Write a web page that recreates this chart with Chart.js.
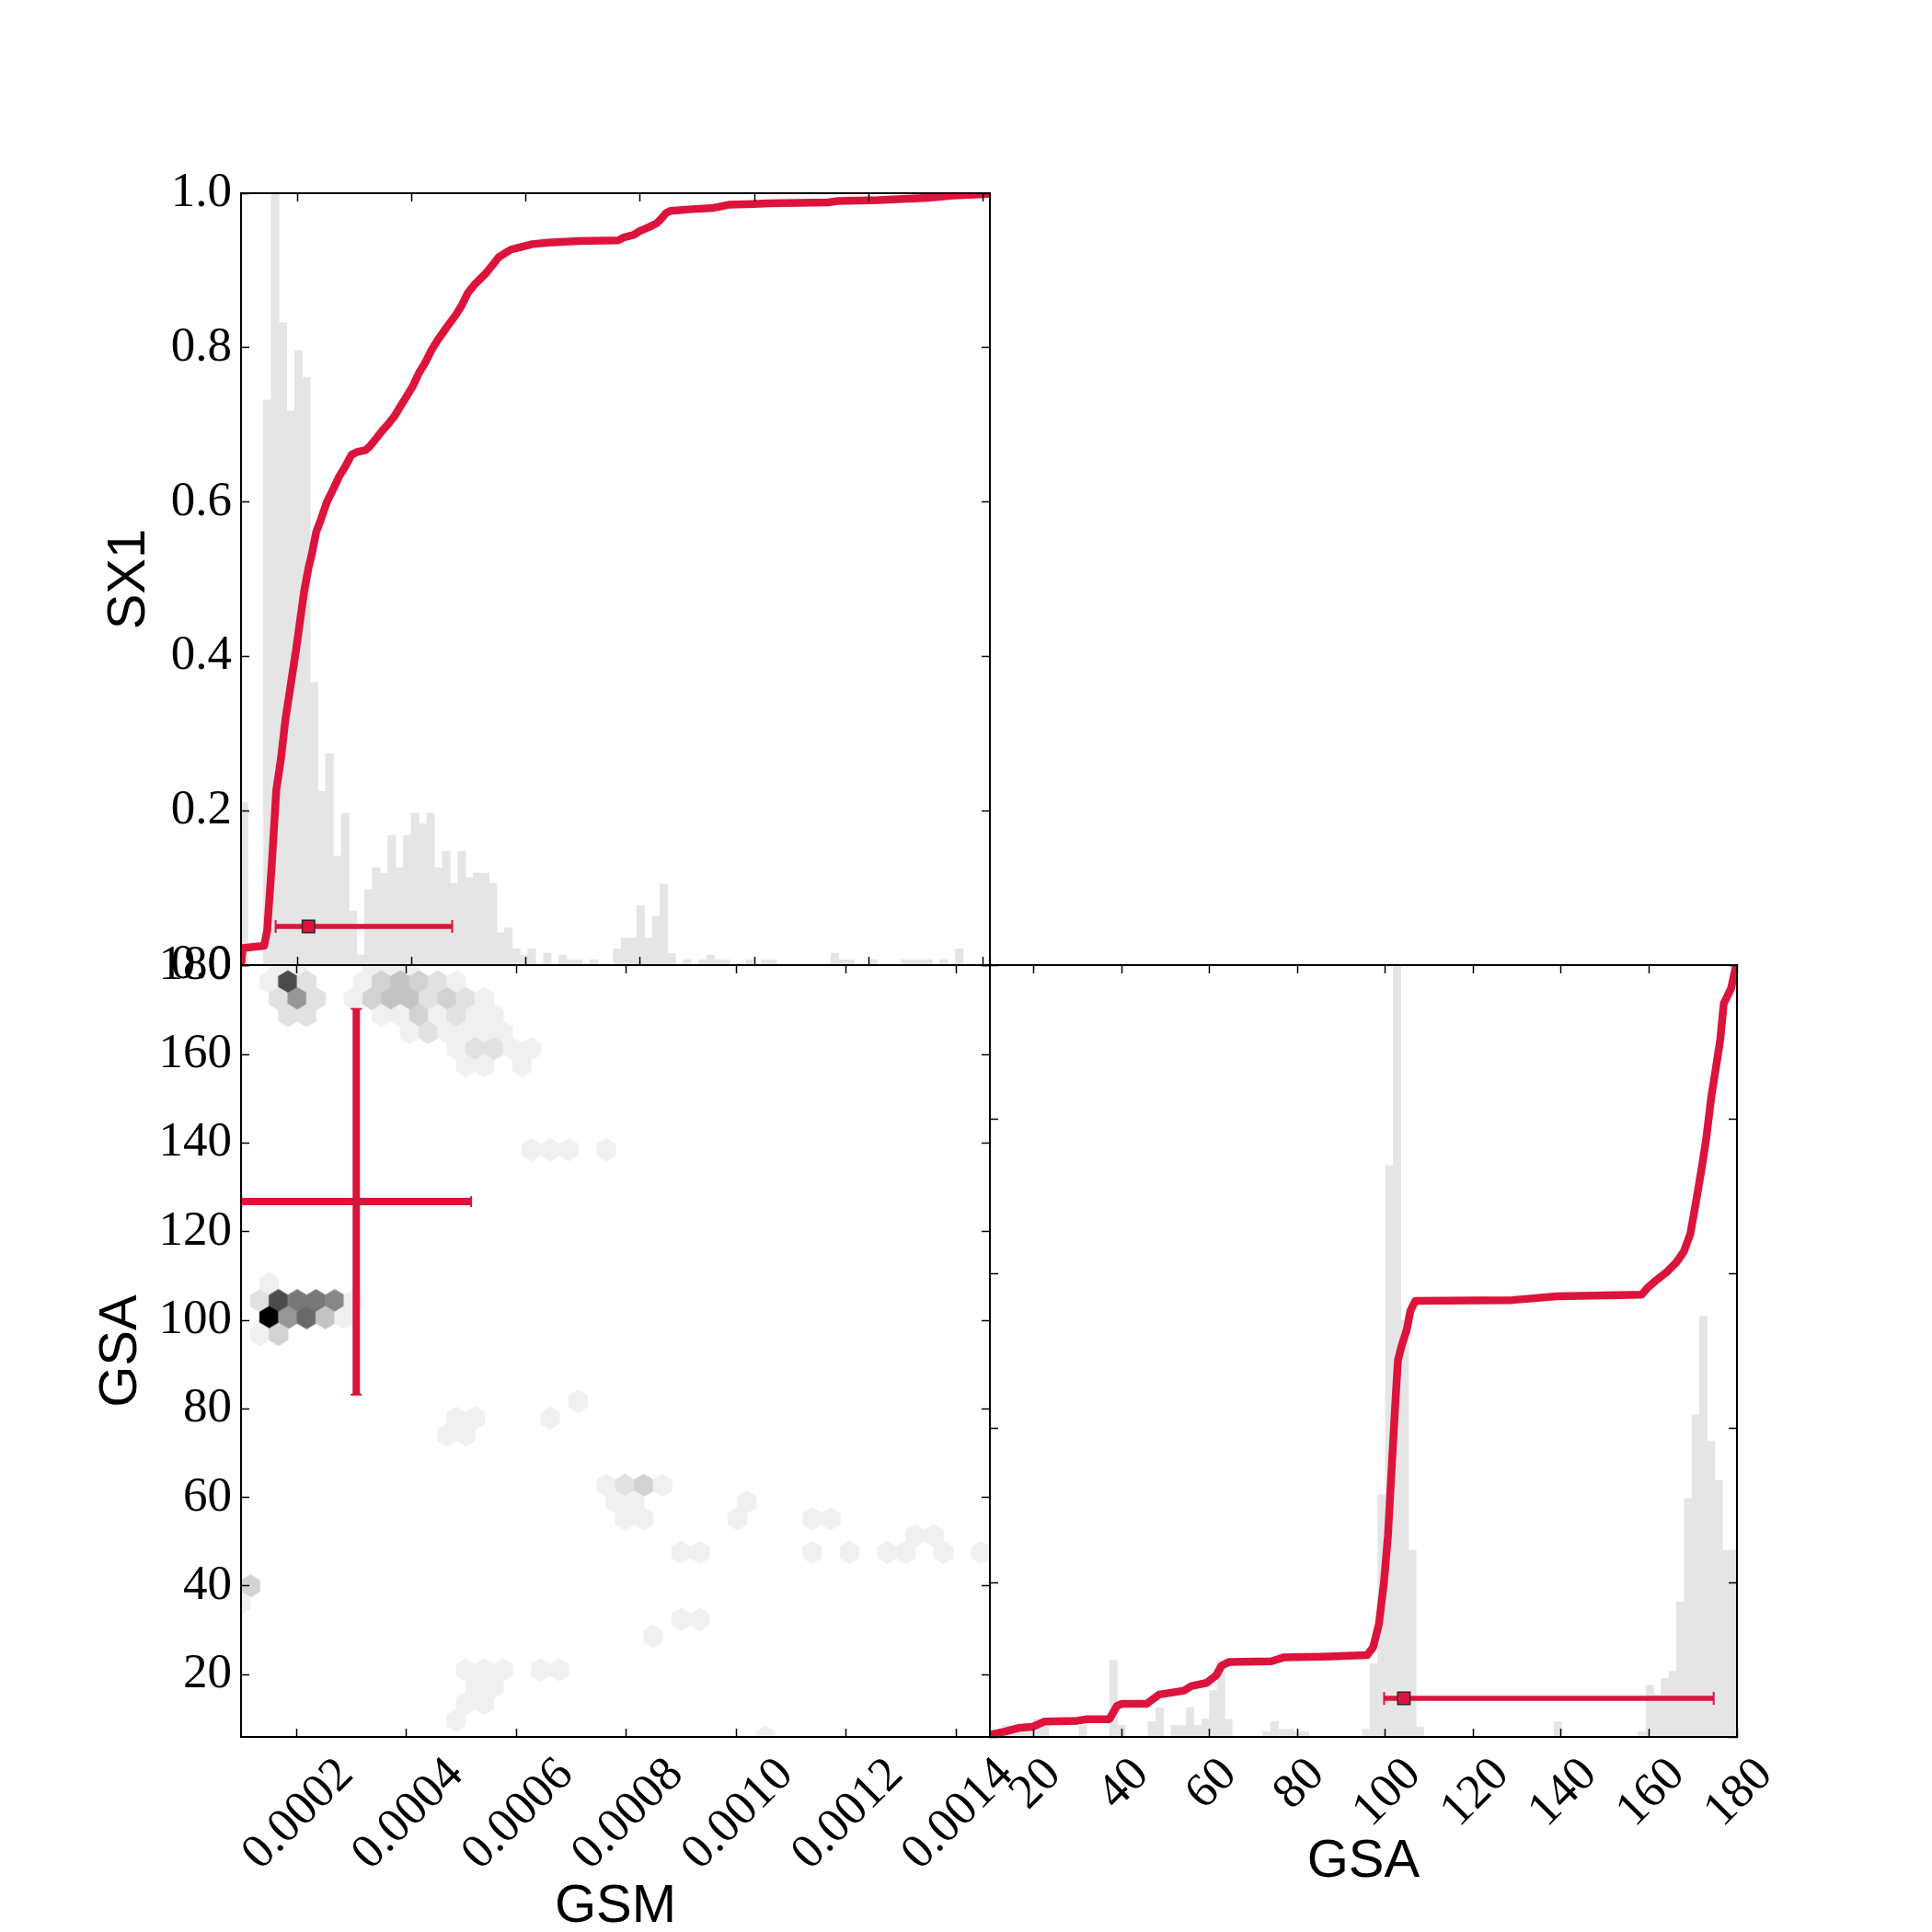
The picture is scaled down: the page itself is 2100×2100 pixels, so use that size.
<!DOCTYPE html>
<html>
<head>
<meta charset="utf-8">
<script src="https://cdn.jsdelivr.net/npm/chart.js@4.4.1/dist/chart.umd.min.js"></script>
<style>
  html, body { margin: 0; padding: 0; background: #fff; }
  #wrap { position: relative; width: 2100px; height: 2100px; overflow: hidden; }
  #wrap canvas { position: absolute; left: 0; top: 0; }
</style>
</head>
<body>
<div id="wrap">
  <canvas id="cdfGsm" width="2100" height="2100"></canvas>
  <canvas id="hexPanel" width="2100" height="2100"></canvas>
  <canvas id="cdfGsa" width="2100" height="2100"></canvas>
</div>
<script>
const RED = '#dc143c';
const HIST = '#e5e5e5';

// tick values / labels
const gsmTickValues = [0.0002, 0.0004, 0.0006, 0.0008, 0.0010, 0.0012, 0.0014];
const gsmTickLabels = ['0.0002', '0.0004', '0.0006', '0.0008', '0.0010', '0.0012', '0.0014'];
const gsaTickValues = [20, 40, 60, 80, 100, 120, 140, 160, 180];
const gsaTickLabels = ['20', '40', '60', '80', '100', '120', '140', '160', '180'];
const fracTickValues = [0, 0.2, 0.4, 0.6, 0.8, 1.0];
const fracTickLabels = ['0.0', '0.2', '0.4', '0.6', '0.8', '1.0'];

// axis ranges
const gsmRangeDiag = [0.0001015, 0.0014122];
const gsmRange = [0.0000994, 0.0014616];
const gsaRange = [5.9, 180.2];
const gsaRangeDiag = [10, 180];

// GSM histogram (normalised to tallest bin)
const gsmBinStart = 0.0001;
const gsmBinWidth = 1.3607e-5;
const gsmHist = [
  0.211, 0, 0, 0.732, 1.0, 0.832, 0.718, 0.796, 0.761, 0.366,
  0.225, 0.274, 0.141, 0.197, 0.070, 0.013, 0.098, 0.126, 0.119, 0.168,
  0.126, 0.168, 0.197, 0.183, 0.197, 0.126, 0.147, 0.106, 0.147, 0.113,
  0.119, 0.119, 0.106, 0.042, 0.048, 0.021, 0.013, 0.021, 0, 0.015,
  0, 0.013, 0.007, 0.007, 0, 0.007, 0, 0, 0.021, 0.035,
  0.035, 0.077, 0.035, 0.063, 0.105, 0.015, 0, 0.007, 0, 0.007,
  0.013, 0.007, 0.007, 0, 0, 0.007, 0, 0.007, 0.007, 0,
  0, 0, 0, 0, 0, 0, 0.015, 0.007, 0.007, 0,
  0, 0.007, 0, 0, 0, 0.007, 0.007, 0.007, 0.007, 0,
  0.007, 0, 0.021, 0, 0, 0, 0, 0, 0, 0
];

// GSA histogram
const gsaBinStart = 5.9;
const gsaBinWidth = 1.743;
const gsaHist = [
  0, 0, 0, 0.007, 0.015, 0.015, 0.015, 0.015, 0.023, 0.023,
  0, 0, 0, 0, 0.015, 0, 0, 0, 0.099, 0.015,
  0, 0, 0, 0.020, 0.038, 0, 0.015, 0.015, 0.038, 0.015,
  0.023, 0.060, 0.099, 0.023, 0, 0, 0, 0, 0.007, 0.020,
  0.010, 0.010, 0.007, 0.007, 0, 0, 0, 0, 0, 0,
  0, 0.010, 0.095, 0.314, 0.740, 1.0, 0.540, 0.242, 0.013, 0,
  0, 0, 0, 0, 0, 0, 0, 0, 0, 0,
  0, 0, 0, 0, 0, 0, 0.020, 0, 0, 0,
  0, 0, 0, 0, 0, 0, 0, 0.007, 0.067, 0.055,
  0.076, 0.085, 0.175, 0.309, 0.417, 0.545, 0.383, 0.332, 0.242, 0.242
];

// cumulative curves
const cdfGsmX = [0.0001015, 0.0001045, 0.0001418, 0.0001471, 0.0001552, 0.0001632, 0.0001713, 0.0001793,
  0.0001874, 0.0001981, 0.0002115, 0.0002196, 0.0002250, 0.0002330, 0.0002411, 0.0002518, 0.0002625,
  0.0002733, 0.0002840, 0.0002947, 0.0003055, 0.0003189, 0.0003269, 0.0003377, 0.0003484, 0.0003592,
  0.0003699, 0.0003806, 0.0003914, 0.0004021, 0.0004128, 0.0004236, 0.0004343, 0.0004450, 0.0004611,
  0.0004772, 0.0004880, 0.0004987, 0.0005094, 0.0005202, 0.0005309, 0.0005416, 0.0005524, 0.0005631,
  0.0005739, 0.0005846, 0.0006114, 0.0006383, 0.0006919, 0.0007617, 0.0007725, 0.0007886, 0.0007993,
  0.0008154, 0.0008288, 0.0008369, 0.0008449, 0.0008530, 0.0008851, 0.0009287, 0.000955, 0.0009986,
  0.001025, 0.001129, 0.001147, 0.001217, 0.001304, 0.001348, 0.001412];
const cdfGsmY = [0.0, 0.022, 0.025, 0.044, 0.129, 0.227, 0.267, 0.319, 0.358, 0.410, 0.482, 0.515, 0.531,
  0.561, 0.577, 0.600, 0.616, 0.633, 0.646, 0.661, 0.665, 0.667, 0.672, 0.682, 0.692, 0.701, 0.711, 0.724,
  0.737, 0.750, 0.767, 0.780, 0.796, 0.809, 0.826, 0.842, 0.855, 0.871, 0.881, 0.889, 0.897, 0.907, 0.917,
  0.922, 0.927, 0.929, 0.934, 0.936, 0.938, 0.939, 0.943, 0.946, 0.951, 0.956, 0.961, 0.967, 0.974, 0.977,
  0.979, 0.981, 0.985, 0.986, 0.987, 0.988, 0.990, 0.991, 0.994, 0.997, 0.999];

const cdfGsaX = [10.03, 13.42, 16.82, 19.65, 22.48, 29.84, 32.10, 37.20, 38.89, 40.03, 45.69, 48.51, 51.91,
  54.17, 55.87, 59.27, 61.53, 62.66, 64.36, 74.03, 76.81, 85.87, 95.83, 97.19, 98.54, 99.68, 100.58, 101.49,
  102.28, 102.85, 103.75, 104.88, 105.68, 106.81, 128.88, 139.07, 158.31, 159.67, 161.70, 163.97, 166.23,
  167.93, 169.40, 170.76, 172.12, 173.02, 174.15, 175.29, 176.19, 176.99, 178.68, 179.81];
const cdfGsaY = [0.003, 0.007, 0.012, 0.013, 0.020, 0.021, 0.023, 0.023, 0.040, 0.043, 0.043, 0.055, 0.058,
  0.060, 0.066, 0.070, 0.080, 0.092, 0.097, 0.098, 0.103, 0.104, 0.106, 0.116, 0.147, 0.201, 0.261, 0.355,
  0.435, 0.488, 0.508, 0.528, 0.552, 0.565, 0.566, 0.571, 0.573, 0.582, 0.592, 0.602, 0.615, 0.629, 0.652,
  0.696, 0.742, 0.776, 0.829, 0.870, 0.903, 0.950, 0.970, 1.0];

// summary markers: [low, centre, high]
const barLevel = 0.05;
const gsmSummary = [0.000162, 0.0002195, 0.000471];
const gsaSummary = [99.7, 104.2, 174.7];
const crossGsm = [0.0001, 0.000309, 0.000518];
const crossGsa = [83.2, 126.8, 170.3];

// hexbin cells (centre GSM, centre GSA, count)
const hexCellW = 3.4065e-5;
const hexCellH = 7.578;
const hexMax = 17;
const hexGsm = [
  0.0001675, 0.0002016, 0.0003379, 0.0003719, 0.0004060,
  0.0001505, 0.0001846, 0.0002186, 0.0003208, 0.0003549, 0.0003890, 0.0004230, 0.0004571, 0.0004911,
  0.0001675, 0.0002016, 0.0002357, 0.0003038, 0.0003379, 0.0003719, 0.0004060, 0.0004401, 0.0004741, 0.0005082, 0.0005422,
  0.0001846, 0.0002186, 0.0003549, 0.0003890, 0.0004230, 0.0004571, 0.0004911, 0.0005252, 0.0005593,
  0.0004060, 0.0004401, 0.0004741, 0.0005082, 0.0005422, 0.0005763,
  0.0004911, 0.0005252, 0.0005593, 0.0005933, 0.0006274,
  0.0005082, 0.0005422, 0.0006104,
  0.0006274, 0.0006615, 0.0006955, 0.0007637,
  0.0001505,
  0.0001335, 0.0001675, 0.0002016, 0.0002357, 0.0002697, 0.0003038,
  0.0001505, 0.0001846, 0.0002186, 0.0002527, 0.0002868,
  0.0001335, 0.0001675,
  0.0007126,
  0.0004911, 0.0005252, 0.0006615,
  0.0004741, 0.0005082,
  0.0007637, 0.0007977, 0.0008318, 0.0008659,
  0.0007807, 0.0008148, 0.0010192,
  0.0007977, 0.0008318, 0.0010021, 0.0011384, 0.0011725,
  0.0013257, 0.0013598,
  0.0008999, 0.0009340, 0.0011384, 0.0012065, 0.0012747, 0.0013087, 0.0013768, 0.0014450,
  0.0001164,
  0.0000994,
  0.0008999, 0.0009340,
  0.0008488,
  0.0005082, 0.0005422, 0.0005763, 0.0006444, 0.0006785,
  0.0005252, 0.0005593,
  0.0005082, 0.0005422,
  0.0004911,
  0.0010532
];
const hexGsa = [
  180.2, 180.2, 180.2, 180.2, 180.2,
  176.4, 176.4, 176.4, 176.4, 176.4, 176.4, 176.4, 176.4, 176.4,
  172.6, 172.6, 172.6, 172.6, 172.6, 172.6, 172.6, 172.6, 172.6, 172.6, 172.6,
  168.8, 168.8, 168.8, 168.8, 168.8, 168.8, 168.8, 168.8, 168.8,
  165.0, 165.0, 165.0, 165.0, 165.0, 165.0,
  161.3, 161.3, 161.3, 161.3, 161.3,
  157.5, 157.5, 157.5,
  138.5, 138.5, 138.5, 138.5,
  108.2,
  104.4, 104.4, 104.4, 104.4, 104.4, 104.4,
  100.6, 100.6, 100.6, 100.6, 100.6,
  96.84, 96.84,
  81.68,
  77.89, 77.89, 77.89,
  74.10, 74.10,
  62.74, 62.74, 62.74, 62.74,
  58.95, 58.95, 58.95,
  55.16, 55.16, 55.16, 55.16, 55.16,
  51.37, 51.37,
  47.58, 47.58, 47.58, 47.58, 47.58, 47.58, 47.58, 47.58,
  40.0,
  36.21,
  32.42, 32.42,
  28.63,
  21.06, 21.06, 21.06, 21.06, 21.06,
  17.27, 17.27,
  13.48, 13.48,
  9.69,
  5.9
];
const hexCount = [
  1, 1, 1, 1, 1,
  1, 12, 2, 1, 3, 4, 3, 2, 1,
  2, 7, 2, 1, 3, 4, 4, 2, 3, 2, 1,
  2, 2, 1, 1, 3, 1, 2, 1, 1,
  1, 2, 1, 1, 1, 1,
  1, 2, 2, 1, 1,
  1, 1, 1,
  1, 1, 1, 1,
  1,
  2, 12, 9, 9, 8, 1,
  17, 7, 10, 4, 1,
  1, 3,
  1,
  1, 1, 1,
  1, 1,
  1, 2, 3, 1,
  1, 1, 1,
  1, 1, 1, 1, 1,
  1, 1,
  1, 1, 1, 1, 1, 1, 1, 1,
  3,
  1,
  1, 1,
  1,
  1, 1, 1, 1, 1,
  1, 1,
  1, 1,
  1,
  1
];

// ---- helpers ----
const tickFont = { family: 'Liberation Serif', size: 53 };
const titleFont = { family: 'Liberation Sans', size: 58, lineHeight: 1 };

function frameAxis(position, range, tickValues, size, ticks, title) {
  const horizontal = position === 'top' || position === 'bottom';
  return {
    type: 'linear',
    axis: horizontal ? 'x' : 'y',
    position: position,
    min: range[0],
    max: range[1],
    offset: false,
    beginAtZero: false,
    afterBuildTicks: scale => { scale.ticks = tickValues.map(v => ({ value: v })); },
    afterFit: scale => { if (horizontal) scale.height = size; else scale.width = size; },
    border: { display: true, color: '#000', width: 2, z: 1 },
    grid: { display: true, offset: false, drawOnChartArea: false, drawTicks: true, tickLength: -9,
            tickWidth: 1.5, tickColor: '#000', color: '#000', z: 1 },
    ticks: ticks || { display: false },
    title: title || { display: false }
  };
}

function yLabels(labels) {
  return { display: true, autoSkip: false, padding: 19, color: '#000', font: tickFont,
           callback: (v, i) => labels[i] };
}

function axisTitle(text, padding) {
  return { display: true, text: text, color: '#000', font: titleFont, padding: padding };
}

function histData(start, width, heights) {
  return heights.map((h, k) => ({ x: start + (k + 0.5) * width, y: h }));
}

function pairs(xs, ys) {
  return xs.map((x, i) => ({ x: x, y: ys[i] }));
}

// x tick labels rotated 45 deg and centred on the tick (matplotlib style)
const rotatedTickLabels = {
  id: 'rotatedTickLabels',
  afterDraw(chart, args, opts) {
    if (!opts.labels) return;
    const scale = chart.scales.x;
    const ctx = chart.ctx;
    ctx.save();
    ctx.font = tickFont.size + 'px "' + tickFont.family + '"';
    ctx.fillStyle = '#000';
    ctx.textAlign = 'center';
    ctx.textBaseline = 'alphabetic';
    scale.ticks.forEach((t, i) => {
      const text = opts.labels[i];
      const w = ctx.measureText(text).width;
      const h = tickFont.size * 0.66;
      const half = (w + h) * Math.SQRT1_2 / 2;
      const px = scale.getPixelForValue(t.value);
      const py = scale.top + opts.pad + half;
      ctx.save();
      ctx.translate(px, py);
      ctx.rotate(-Math.PI / 4);
      ctx.fillText(text, 0, h / 2);
      ctx.restore();
    });
    ctx.restore();
  }
};

const hexCache = {};
function hexImage(c) {
  if (!c.raw) return 'circle';
  const xs = c.chart.scales.x, ys = c.chart.scales.y;
  const hw = Math.abs(xs.getPixelForValue(xs.min + hexCellW / 2) - xs.getPixelForValue(xs.min));
  const hh = Math.abs(ys.getPixelForValue(ys.min + hexCellH / 3) - ys.getPixelForValue(ys.min));
  const key = c.raw.c + ':' + hw.toFixed(2) + ':' + hh.toFixed(2);
  if (hexCache[key]) return hexCache[key];
  const g = Math.round(255 * (1 - c.raw.c / hexMax));
  const cv = document.createElement('canvas');
  cv.width = Math.ceil(hw * 2) + 4;
  cv.height = Math.ceil(hh * 2) + 4;
  const x = cv.getContext('2d');
  const cx = cv.width / 2, cy = cv.height / 2;
  x.beginPath();
  x.moveTo(cx + hw, cy - hh / 2);
  x.lineTo(cx + hw, cy + hh / 2);
  x.lineTo(cx, cy + hh);
  x.lineTo(cx - hw, cy + hh / 2);
  x.lineTo(cx - hw, cy - hh / 2);
  x.lineTo(cx, cy - hh);
  x.closePath();
  x.fillStyle = x.strokeStyle = 'rgb(' + g + ',' + g + ',' + g + ')';
  x.fill();
  x.lineWidth = 1;
  x.stroke();
  hexCache[key] = cv;
  return cv;
}

function baseOptions(scales, extraPlugins) {
  return {
    responsive: false,
    animation: false,
    devicePixelRatio: 1,
    events: [],
    layout: { padding: 0, autoPadding: false },
    plugins: Object.assign({ legend: { display: false }, tooltip: { enabled: false } }, extraPlugins || {}),
    scales: scales
  };
}

function summaryDatasets(summary) {
  return [
    { label: 'centre', data: [{ x: summary[1], y: barLevel }], showLine: false,
      pointStyle: 'rect', pointRadius: 9.5, pointBackgroundColor: RED,
      pointBorderColor: '#2b2b2b', pointBorderWidth: 1.5, order: 0, clip: 0 },
    { label: 'interval', data: [{ x: summary[0], y: barLevel }, { x: summary[2], y: barLevel }],
      borderColor: RED, borderWidth: 5.5, pointStyle: 'line', pointRotation: 90, pointRadius: 7,
      pointBorderColor: RED, pointBorderWidth: 2, order: 1, clip: 0 }
  ];
}

// ---- top-left: GSM distribution ----
new Chart(document.getElementById('cdfGsm'), {
  type: 'line',
  data: {
    datasets: summaryDatasets(gsmSummary).concat([
      { label: 'cdf', data: pairs(cdfGsmX, cdfGsmY), borderColor: RED, borderWidth: 8.5,
        pointRadius: 0, borderJoinStyle: 'round', order: 2, clip: 0 },
      { type: 'bar', label: 'hist', data: histData(gsmBinStart, gsmBinWidth, gsmHist),
        backgroundColor: HIST, borderWidth: 0, barPercentage: 1, categoryPercentage: 1,
        grouped: false, order: 3, clip: 0 }
    ])
  },
  options: baseOptions({
    x: frameAxis('bottom', gsmRangeDiag, gsmTickValues, 2100 - 1049),
    xTop: frameAxis('top', gsmRangeDiag, gsmTickValues, 210),
    y: frameAxis('left', [0, 1], fracTickValues, 262, yLabels(fracTickLabels),
                 axisTitle('SX1', { top: 112, bottom: 0 })),
    yRight: frameAxis('right', [0, 1], fracTickValues, 2100 - 1076)
  })
});

// ---- bottom-left: GSM vs GSA hexbin ----
new Chart(document.getElementById('hexPanel'), {
  type: 'line',
  plugins: [rotatedTickLabels],
  data: {
    datasets: [
      { label: 'crossH', data: [{ x: crossGsm[0], y: crossGsa[1] }, { x: crossGsm[2], y: crossGsa[1] }],
        borderColor: RED, borderWidth: 8, pointStyle: 'line', pointRotation: 90, pointRadius: 6,
        pointBorderColor: RED, pointBorderWidth: 2, order: 0, clip: 0 },
      { label: 'crossV', data: [{ x: crossGsm[1], y: crossGsa[0] }, { x: crossGsm[1], y: crossGsa[2] }],
        borderColor: RED, borderWidth: 8, pointStyle: 'line', pointRotation: 0, pointRadius: 6,
        pointBorderColor: RED, pointBorderWidth: 2, order: 1, clip: 0 },
      { label: 'hexbin', data: hexGsm.map((x, i) => ({ x: x, y: hexGsa[i], c: hexCount[i] })),
        showLine: false, pointStyle: hexImage, pointRadius: 12, pointBorderWidth: 0,
        order: 2, clip: 0 }
    ]
  },
  options: baseOptions({
    x: frameAxis('bottom', gsmRange, gsmTickValues, 2100 - 1888, null,
                 axisTitle('GSM', { top: 0, bottom: -1.5 })),
    xTop: frameAxis('top', gsmRange, gsmTickValues, 1049),
    y: frameAxis('left', gsaRange, gsaTickValues, 262, yLabels(gsaTickLabels),
                 axisTitle('GSA', { top: 103, bottom: 0 })),
    yRight: frameAxis('right', gsaRange, gsaTickValues, 2100 - 1076)
  }, { rotatedTickLabels: { labels: gsmTickLabels, pad: 18 } })
});

// ---- bottom-right: GSA distribution ----
new Chart(document.getElementById('cdfGsa'), {
  type: 'line',
  plugins: [rotatedTickLabels],
  data: {
    datasets: summaryDatasets(gsaSummary).concat([
      { label: 'cdf', data: pairs(cdfGsaX, cdfGsaY), borderColor: RED, borderWidth: 8.5,
        pointRadius: 0, borderJoinStyle: 'round', order: 2, clip: 0 },
      { type: 'bar', label: 'hist', data: histData(gsaBinStart, gsaBinWidth, gsaHist),
        backgroundColor: HIST, borderWidth: 0, barPercentage: 1, categoryPercentage: 1,
        grouped: false, order: 3, clip: 0 }
    ])
  },
  options: baseOptions({
    x: frameAxis('bottom', gsaRangeDiag, gsaTickValues, 2100 - 1888, null,
                 axisTitle('GSA', { top: 0, bottom: 47 })),
    xTop: frameAxis('top', gsaRangeDiag, gsaTickValues, 1049),
    y: frameAxis('left', [0, 1], fracTickValues, 1076),
    yRight: frameAxis('right', [0, 1], fracTickValues, 2100 - 1888)
  }, { rotatedTickLabels: { labels: gsaTickLabels, pad: 18 } })
});
</script>
</body>
</html>
